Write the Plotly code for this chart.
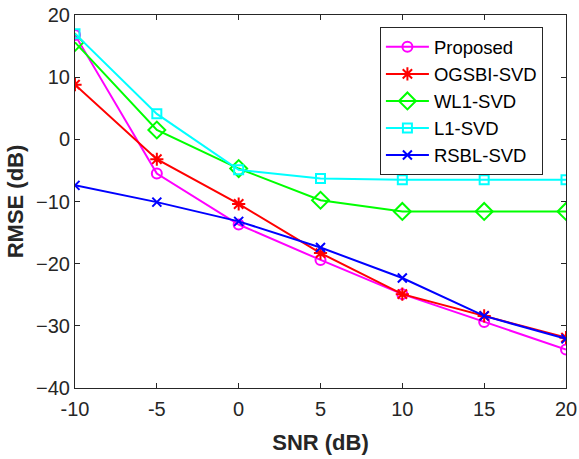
import plotly.graph_objects as go

snr = [-10, -5, 0, 5, 10, 15, 20]
proposed = [16.8, -5.5, -13.7, -19.4, -24.9, -29.4, -33.8]
ogsbi = [8.8, -3.2, -10.4, -18.3, -24.9, -28.4, -31.9]
wl1 = [15.6, 1.5, -4.7, -9.8, -11.6, -11.6, -11.6]
l1 = [17.0, 4.1, -4.9, -6.3, -6.5, -6.5, -6.5]
rsbl = [-7.4, -10.1, -13.2, -17.4, -22.3, -28.4, -32.1]
y_ticks = [-40, -30, -20, -10, 0, 10, 20]

series = [
    ("Proposed", proposed, "#ff00ff", "circle-open", 10),
    ("OGSBI-SVD", ogsbi, "#ff0000", "asterisk-open", 11),
    ("WL1-SVD", wl1, "#00ff00", "diamond-open", 13),
    ("L1-SVD", l1, "#00ffff", "square-open", 9),
    ("RSBL-SVD", rsbl, "#0000ff", "x-thin-open", 9),
]

FONT = "Liberation Sans, Arial, Helvetica"
fig = go.Figure()
for name, ys, col, sym, sz in series:
    fig.add_trace(go.Scatter(
        x=snr, y=ys, name=name, mode="lines+markers",
        line=dict(color=col, width=2),
        marker=dict(symbol=sym, size=sz, color=col, line=dict(color=col, width=2)),
    ))

axis_common = dict(
    showgrid=False, zeroline=False, showline=True, linecolor="#262626", linewidth=1,
    mirror="ticks", ticks="inside", ticklen=5, tickcolor="#262626", automargin=False,
    tickfont=dict(family=FONT, size=20, color="#262626"), ticklabeloverflow="allow",
)
fig.update_xaxes(range=[-10, 20], tickvals=snr, ticktext=[str(v) for v in snr],
                 ticklabelstandoff=3,
                 title=dict(text="<b>SNR (dB)</b>", font=dict(family=FONT, size=22, color="#262626"), standoff=15),
                 **axis_common)
fig.update_yaxes(range=[-40, 20], tickvals=y_ticks,
                 title=dict(text="<b>RMSE (dB)</b>", font=dict(family=FONT, size=22, color="#262626"), standoff=6),
                 **axis_common)

fig.update_layout(
    width=579, height=459,
    margin=dict(l=75, r=13, t=15, b=71),
    plot_bgcolor="white", paper_bgcolor="white",
    font=dict(family=FONT, color="#000000"),
    showlegend=True,
    legend=dict(x=0.621, y=0.967, xanchor="left", yanchor="top",
                bgcolor="white", bordercolor="#262626", borderwidth=1,
                font=dict(family=FONT, size=18.5, color="#000000"), itemwidth=43),
)

fig.write_html("out.html", config={"displayModeBar": False},
               post_script="document.body.style.margin='0';")
